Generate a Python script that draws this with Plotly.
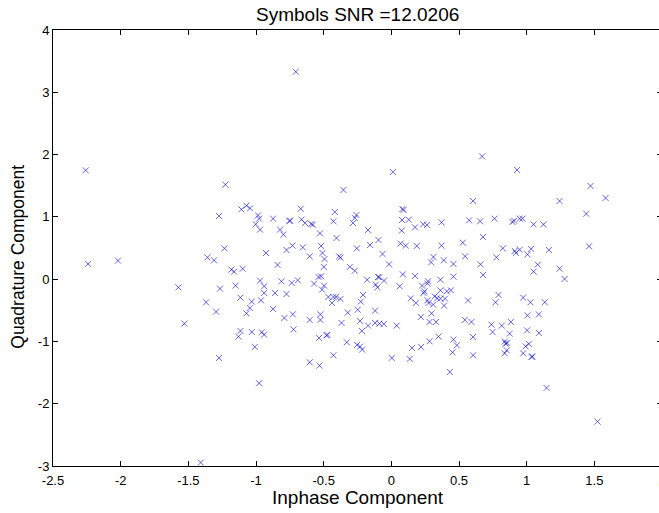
import plotly.graph_objects as go

# Scatter symbols (Inphase, Quadrature)
inphase = [
    -2.258, -2.241, -2.02, -0.706, -1.408, 1.524,
    -1.226, -1.273, -1.108, -1.071, -1.044, -0.985, -0.977, -1.002, -0.970, -0.874, -0.753, -0.748,
    -0.822, -0.797, -0.731, -0.775, -0.926, -1.233, -1.359, -1.31, -1.182, -1.162, -1.098, -0.841,
    0.011, -0.354, 0.082, 0.09, -0.669, -0.664, -0.637, -0.592, -0.58, -0.418, -0.428, -0.258, -0.27,
    -0.283, -0.527, -0.405, -0.172, -0.095, -0.157, -0.255, -0.654, -0.519, -0.603, -0.509, -0.494,
    -0.499, -0.386, -0.376, -0.307, -0.27, -0.065, -0.017, 0.079, 0.129, 0.077, 0.175, 0.235, 0.264,
    0.371, 0.068, 0.107, 0.188, 0.371, 0.311, 0.294, 0.388, 0.459, 0.085, 0.176, -0.538, -0.519,
    -0.098, -0.09, 0.363, 0.459,
    0.671, 0.929, 1.472, 1.583, 0.604, 1.243, 1.44, 0.575, 0.656, 0.762, 0.895, 0.907, 0.949, 0.969,
    1.051, 1.124, 0.528, 0.678, 0.545, 0.824, 0.777, 0.92, 0.912, 0.949, 1.006, 1.033, 1.164, 1.461,
    0.659, 1.082, 1.051, 1.243, 0.678, 1.28,
    -1.573, -1.266, -1.15, -0.970, -0.94, -0.812, -0.736, -0.691, -0.94, -0.859, -0.775, -1.369,
    -1.115, -1.031, -0.963, -1.295, -1.046, -1.071, -0.874, -0.79, -0.728, -1.529, -1.115, -1.13,
    -1.031, -0.957, -0.94, -0.723, -1.009, -1.273, -0.977,
    -0.571, -0.497, -0.512, -0.179, -0.115, -0.102, -0.054, 0.062, 0.227, 0.271, 0.267, 0.238, 0.245,
    0.363, 0.41, 0.44, -0.465, -0.428, -0.408, -0.376, -0.438, -0.209, -0.226, -0.322, -0.248, -0.12,
    0.144, 0.181, 0.267, 0.275, 0.321, 0.338, 0.309, 0.363, 0.397, 0.39, -0.603, -0.524, -0.524,
    -0.368, -0.231, -0.218, -0.172, -0.12, -0.088, -0.056, 0.04, 0.218, 0.297, 0.282, 0.331, -0.534,
    -0.479, -0.472, -0.329, -0.253, -0.231, -0.216, -0.428, -0.603, -0.531, 0.003, 0.136, 0.153,
    0.22, 0.282, 0.348, 0.459, 0.484, 0.452, 0.432,
    0.567, 0.792, 0.77, 0.974, 1.028, 1.134, 0.543, 0.592, 0.74, 0.816, 0.883, 0.748, 0.875, 1.006,
    1.09, 1.003, 1.09, 0.604, 0.604, 0.838, 0.856, 0.844, 0.853, 0.838, 0.992, 1.016, 0.974, 1.036,
    1.042, 1.147,
]
quadrature = [
    1.746, 0.244, 0.297, 3.33, -2.945, -2.287,
    1.517, 1.014, 1.12, 1.18, 1.137, 1.024, 0.971, 0.88, 0.795, 0.971, 0.934, 0.94,
    0.795, 0.714, 0.538, 0.468, 0.42, 0.494, 0.35, 0.302, 0.152, 0.12, 0.168, 0.228,
    1.72, 1.432, 1.127, 1.11, 1.13, 0.955, 0.90, 0.885, 0.875, 1.078, 0.928, 1.03, 0.982,
    0.90, 0.735, 0.661, 0.79, 0.629, 0.549, 0.494, 0.51, 0.533, 0.366, 0.42, 0.324,
    0.196, 0.366, 0.345, 0.196, 0.136, 0.404, 0.238, 0.95, 0.955, 0.778, 0.832, 0.88, 0.87,
    0.912, 0.57, 0.538, 0.533, 0.538, 0.356, 0.27, 0.302, 0.244, 0.077, 0.051, 0.035, 0.045,
    0.035, 0.03, -0.01, 0.04,
    1.971, 1.753, 1.496, 1.303, 1.255, 1.255, 1.051, 0.944, 0.928, 0.971, 0.918, 0.939, 0.971, 0.971,
    0.88, 0.88, 0.586, 0.677, 0.366, 0.494, 0.35, 0.42, 0.453, 0.474, 0.398, 0.485, 0.469, 0.527,
    0.238, 0.233, 0.12, 0.168, 0.067, 0.003,
    -0.132, -0.152, -0.104, -0.024, -0.115, -0.035, -0.061, -0.019, -0.222, -0.222, -0.238, -0.372,
    -0.297, -0.361, -0.34, -0.522, -0.462, -0.549, -0.478, -0.623, -0.565, -0.714, -0.832, -0.923,
    -0.848, -0.854, -0.891, -0.806, -1.088, -1.265, -1.672,
    -0.072, -0.104, -0.169, -0.01, -0.088, -0.132, -0.024, -0.115, -0.104, -0.035, -0.072, -0.222, -0.196,
    -0.18, -0.196, -0.18, -0.286, -0.286, -0.286, -0.318, -0.382, -0.254, -0.361, -0.538, -0.49, -0.506,
    -0.308, -0.382, -0.34, -0.382, -0.276, -0.308, -0.409, -0.313, -0.313, -0.425, -0.655, -0.565, -0.655,
    -0.703, -0.671, -0.832, -0.746, -0.703, -0.714, -0.719, -0.746, -0.607, -0.549, -0.687, -0.687, -0.944,
    -0.902, -0.895, -1.014, -1.056, -1.083, -1.132, -1.223, -1.335, -1.388, -1.265, -1.281, -1.104,
    -1.088, -0.998, -0.923, -0.971, -1.063, -1.175, -1.49,
    -0.342, -0.254, -0.372, -0.297, -0.372, -0.372, -0.655, -0.687, -0.73, -0.746, -0.687, -0.848, -0.875, -0.581,
    -0.565, -0.822, -0.864, -0.928, -1.223, -1.003, -1.024, -1.035, -1.143, -1.191, -1.079, -1.04, -1.191, -1.249,
    -1.243, -1.746,
]

x_ticks = [-2.5, -2, -1.5, -1, -0.5, 0, 0.5, 1, 1.5, 2]
x_tick_text = ["-2.5", "-2", "-1.5", "-1", "-0.5", "0", "0.5", "1", "1.5", "2"]
y_ticks = [-3, -2, -1, 0, 1, 2, 3, 4]
y_tick_text = ["-3", "-2", "-1", "0", "1", "2", "3", "4"]

title_text = "Symbols SNR =12.0206"
x_label = "Inphase Component"
y_label = "Quadrature Component"

FONT = "Liberation Sans, Arial, sans-serif"

fig = go.Figure()
fig.add_trace(go.Scatter(
    x=inphase, y=quadrature, mode="markers",
    marker=dict(symbol="x-thin", size=6, color="rgba(0,0,200,0.6)",
                line=dict(width=1, color="rgba(0,0,200,0.6)")),
    hoverinfo="x+y", showlegend=False,
))

axis_common = dict(
    showgrid=False, zeroline=False, showline=True, linecolor="black", linewidth=1,
    mirror="ticks", ticks="inside", ticklen=5, tickwidth=1, tickcolor="black",
    tickfont=dict(family=FONT, size=13, color="black"),
)

W, H = 680, 513
L, R, T, B = 53, W - 662, 30, 47
PW, PH = W - L - R, H - T - B

fig.update_layout(
    width=W, height=H,
    margin=dict(l=L, r=R, t=T, b=B, pad=0),
    paper_bgcolor="white", plot_bgcolor="white",
    xaxis=dict(range=[-2.5, 2], tickvals=x_ticks, ticktext=x_tick_text,
               ticklabelstandoff=2, **axis_common),
    yaxis=dict(range=[-3, 4], tickvals=y_ticks, ticktext=y_tick_text, **axis_common),
    annotations=[
        dict(text=title_text, xref="paper", yref="paper", x=0.5, y=1 + 15 / PH,
             xanchor="center", yanchor="middle", showarrow=False,
             font=dict(family=FONT, size=19, color="black")),
        dict(text=x_label, xref="paper", yref="paper", x=0.5, y=-31 / PH,
             xanchor="center", yanchor="middle", showarrow=False,
             font=dict(family=FONT, size=19, color="black")),
        dict(text=y_label, xref="paper", yref="paper", x=-35 / PW, y=0.48,
             xanchor="center", yanchor="middle", textangle=-90, showarrow=False,
             font=dict(family=FONT, size=17.5, color="black")),
    ],
)

fig.write_html(
    "out.html",
    post_script="document.documentElement.style.overflow='hidden';document.body.style.overflow='hidden';document.body.style.margin='0';",
)
